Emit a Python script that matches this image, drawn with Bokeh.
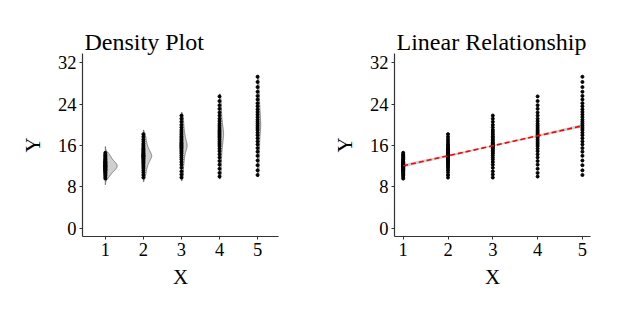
import numpy as np
from bokeh.plotting import figure
from bokeh.layouts import row
from bokeh.models import FixedTicker
from bokeh.embed import file_html
from bokeh.resources import INLINE

# ---- data ----
x_groups = [1, 2, 3, 4, 5]
g1 = [9.6, 9.9, 10.2, 10.4, 10.6, 10.8, 10.9, 11.1, 11.2, 11.3, 11.4, 11.5, 11.6, 11.7,
      11.8, 11.9, 12.0, 12.0, 12.1, 12.2, 12.3, 12.4, 12.5, 12.6, 12.7, 12.8, 12.9, 13.0,
      13.2, 13.3, 13.5, 13.7, 13.9, 14.1, 14.3, 14.6]
g2 = [9.8, 10.3, 10.8, 11.2, 11.6, 11.9, 12.2, 12.5, 12.7, 12.9, 13.1, 13.3, 13.5, 13.6,
      13.8, 13.9, 14.0, 14.1, 14.2, 14.4, 14.5, 14.7, 14.9, 15.1, 15.3, 15.5, 15.8, 16.1,
      16.4, 16.8, 17.2, 17.7, 18.2]
g3 = [9.8, 10.4, 11.0, 11.7, 12.3, 12.8, 13.3, 13.7, 14.1, 14.5, 14.8, 15.1, 15.4, 15.6,
      15.8, 16.0, 16.2, 16.4, 16.6, 16.9, 17.2, 17.5, 17.8, 18.2, 18.6, 19.0, 19.5, 20.0,
      20.6, 21.2, 21.8]
g4 = [10.0, 10.7, 11.5, 12.3, 13.0, 13.7, 14.3, 14.9, 15.4, 15.9, 16.3, 16.7, 17.1, 17.5,
      17.8, 18.1, 18.4, 18.7, 19.0, 19.4, 19.8, 20.2, 20.7, 21.2, 21.8, 22.4, 23.1, 23.8,
      24.6, 25.5]
g5 = [10.3, 11.2, 12.2, 13.1, 14.0, 14.8, 15.5, 16.2, 16.8, 17.4, 18.0, 18.5, 19.0, 19.4,
      19.8, 20.2, 20.6, 21.0, 21.5, 22.0, 22.5, 23.0, 23.6, 24.2, 24.9, 25.6, 26.4, 27.3,
      28.3, 29.3]
groups = [g1, g2, g3, g4, g5]
# density bandwidths and tail extents beyond the data
bandwidths = [0.45, 0.55, 0.65, 0.75, 0.9]
tails = [1.2, 0.8, 0.6, 0.45, 0.3]
# half-width of the confidence band of the fitted line at x = 1..5
ci_half = [0.35, 0.22, 0.15, 0.22, 0.35]
y_ticks = [0, 8, 16, 24, 32]
titles = ["Density Plot", "Linear Relationship"]

FONT = "Liberation Serif"


def style(p):
    p.title.text_font = FONT
    p.title.text_font_size = "24px"
    p.title.text_font_style = "normal"
    p.title.text_color = "black"
    p.title.align = "left"
    p.title.offset = 2
    p.title.standoff = -3
    p.xgrid.visible = False
    p.ygrid.visible = False
    p.outline_line_color = None
    for ax in (p.xaxis, p.yaxis):
        ax.axis_label_text_font = FONT
        ax.axis_label_text_font_size = "21px"
        ax.axis_label_text_font_style = "normal"
        ax.axis_label_text_color = "black"
        ax.major_label_text_font = FONT
        ax.major_label_text_font_size = "18.5px"
        ax.major_label_text_color = "black"
        ax.axis_line_color = "#333333"
        ax.axis_line_width = 1.2
        ax.major_tick_line_color = "#333333"
        ax.major_tick_in = 0
        ax.major_tick_out = 3
        ax.minor_tick_line_color = None
        ax.major_label_standoff = 3
    p.xaxis.axis_label = "X"
    p.yaxis.axis_label = "Y"
    p.xaxis.axis_label_standoff = 6
    p.yaxis.axis_label_standoff = 10
    p.xaxis.ticker = FixedTicker(ticks=x_groups)
    p.yaxis.ticker = FixedTicker(ticks=y_ticks)
    p.yaxis.major_label_orientation = 0


def kde(vals, bw, tail):
    v = np.asarray(vals, dtype=float)
    n = len(v)
    grid = np.linspace(v.min() - tail, v.max() + tail, 200)
    d = np.exp(-0.5 * ((grid[:, None] - v[None, :]) / bw) ** 2).sum(axis=1) / (n * bw * np.sqrt(2 * np.pi))
    return grid, d


BORDERS = dict(min_border_left=82, min_border_right=34, min_border_top=53, min_border_bottom=76)

# ---- left: density plot ----
p1 = figure(width=312, height=312, x_range=(0.4, 5.55), y_range=(-1.6, 33.8),
            output_backend="svg", toolbar_location=None, title=titles[0], **BORDERS)
style(p1)

dens = [kde(g, bw, t) for g, bw, t in zip(groups, bandwidths, tails)]
scale = 0.31 / dens[0][1].max()
for xi, (grid, d) in zip(x_groups, dens):
    xs = np.concatenate([[xi], xi + d * scale, [xi]])
    ys = np.concatenate([[grid[0]], grid, [grid[-1]]])
    p1.patch(xs, ys, fill_color="#d0d0d0", line_color="#555555", line_width=0.7)
for xi, g in zip(x_groups, groups):
    p1.scatter([xi] * len(g), g, size=3.0, color="black")

# ---- right: linear relationship ----
p2 = figure(width=312, height=312, x_range=(0.806, 5.18), y_range=(-1.6, 33.8),
            output_backend="svg", toolbar_location=None, title=titles[1], **BORDERS)
style(p2)

all_x = np.concatenate([[xi] * len(g) for xi, g in zip(x_groups, groups)]).astype(float)
all_y = np.concatenate(groups).astype(float)
b, a = np.polyfit(all_x, all_y, 1)
xg = np.array(x_groups, dtype=float)
yg = a + b * xg
hw = np.array(ci_half)
p2.varea(x=xg, y1=yg - hw, y2=yg + hw, fill_color="#999999", fill_alpha=0.45)
for xi, g in zip(x_groups, groups):
    p2.scatter([xi] * len(g), g, size=3.0, color="black")
p2.line(xg, yg, line_color="red", line_width=1.6, line_dash="5 3")

layout = row(p1, p2)
open("out.html", "w").write(file_html(layout, INLINE))
